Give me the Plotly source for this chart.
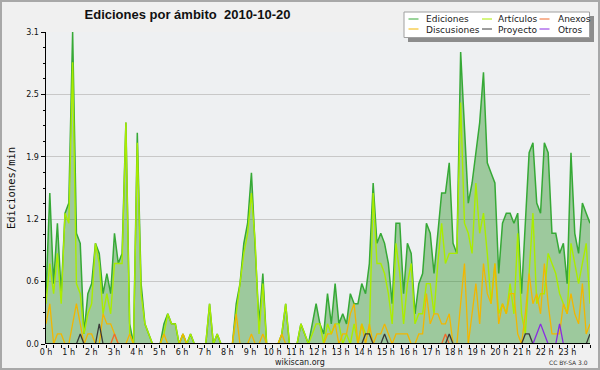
import plotly.graph_objects as go

# ---------------- data (edits per minute, 10-minute bins) ----------------
N_STEPS = 144
HOURS = list(range(24))
HOUR_LABELS = [f"{h} h" for h in HOURS]
Y_MAX = 3.1
Y_TICK_STEP = 0.62
Y_MINOR_STEP = 0.155

EDICIONES = [
    0.5, 1.5, 0.6, 1.2, 0.5, 1.3, 1.4, 3.1, 1.1, 1.0, 0.1, 0.5,
    0.6, 1.0, 0.9, 0.5, 0.7, 0.5, 1.1, 0.8, 0.9, 2.2, 0.2, 0.0,
    2.1, 0.6, 0.2, 0.1, 0.0, 0.0, 0.0, 0.2, 0.3, 0.2, 0.2, 0.0,
    0.1, 0.0, 0.1, 0.0, 0.0, 0.0, 0.0, 0.4, 0.0, 0.1, 0.0, 0.0,
    0.0, 0.0, 0.4, 0.6, 1.0, 1.2, 1.7, 1.0, 0.2, 0.7, 0.0, 0.0,
    0.0, 0.0, 0.1, 0.4, 0.0, 0.0, 0.0, 0.2, 0.1, 0.0, 0.2, 0.4,
    0.2, 0.1, 0.5, 0.2, 0.6, 0.2, 0.3, 0.2, 0.5, 0.4, 0.4, 0.6,
    0.5, 0.8, 1.6, 1.0, 1.1, 1.0, 0.8, 0.4, 1.2, 1.2, 0.5, 1.0,
    0.9, 0.3, 0.6, 0.7, 1.2, 1.1, 0.7, 1.1, 1.5, 1.5, 1.8, 1.0,
    0.9, 2.9, 2.2, 1.4, 1.6, 1.9, 2.2, 2.7, 1.8, 1.7, 1.6, 0.7,
    1.2, 1.3, 1.3, 1.2, 1.3, 0.5, 1.2, 1.9, 2.0, 1.4, 1.3, 2.0,
    1.9, 1.1, 1.1, 0.9, 1.0, 0.6, 1.9, 1.1, 0.9, 1.4, 1.3, 1.2,
]

ARTICULOS = [
    0.4, 0.8, 0.5, 0.9, 0.4, 1.3, 1.2, 2.8, 0.6, 0.5, 0.1, 0.3,
    0.4, 1.0, 0.8, 0.3, 0.5, 0.3, 0.8, 0.8, 0.8, 2.2, 0.1, 0.0,
    2.0, 0.5, 0.2, 0.1, 0.0, 0.0, 0.0, 0.1, 0.3, 0.2, 0.2, 0.0,
    0.1, 0.0, 0.1, 0.0, 0.0, 0.0, 0.0, 0.4, 0.0, 0.1, 0.0, 0.0,
    0.0, 0.0, 0.3, 0.6, 0.9, 1.1, 1.5, 1.0, 0.1, 0.6, 0.0, 0.0,
    0.0, 0.0, 0.1, 0.4, 0.0, 0.0, 0.0, 0.2, 0.1, 0.0, 0.1, 0.2,
    0.2, 0.0, 0.2, 0.1, 0.2, 0.2, 0.0, 0.1, 0.0, 0.2, 0.0, 0.2,
    0.1, 0.1, 1.5, 0.8, 0.8, 0.7, 0.5, 0.2, 1.0, 0.7, 0.2, 0.6,
    0.8, 0.2, 0.3, 0.3, 0.6, 0.6, 0.3, 0.8, 1.2, 0.8, 0.9, 0.9,
    0.9, 2.4, 1.2, 1.1, 0.9, 1.6, 1.1, 1.3, 0.9, 0.4, 0.8, 0.3,
    0.4, 0.3, 0.6, 0.3, 1.1, 0.3, 0.1, 0.7, 1.3, 0.4, 0.5, 0.5,
    0.9, 0.8, 0.7, 0.5, 0.4, 0.3, 1.0, 0.8, 0.6, 0.8, 1.0, 0.4,
]

DISCUSIONES = [
    0.2, 0.4, 0.0, 0.1, 0.1, 0.0, 0.0, 0.2, 0.4, 0.2, 0.0, 0.1,
    0.1, 0.0, 0.0, 0.3, 0.2, 0.2, 0.1, 0.0, 0.0, 0.0, 0.1, 0.0,
    0.0, 0.0, 0.0, 0.0, 0.0, 0.0, 0.0, 0.1, 0.0, 0.0, 0.0, 0.0,
    0.1, 0.0, 0.0, 0.0, 0.0, 0.0, 0.0, 0.0, 0.0, 0.0, 0.0, 0.0,
    0.0, 0.0, 0.3, 0.0, 0.0, 0.0, 0.1, 0.0, 0.0, 0.1, 0.0, 0.0,
    0.0, 0.0, 0.1, 0.0, 0.0, 0.0, 0.0, 0.0, 0.0, 0.0, 0.0, 0.0,
    0.0, 0.0, 0.1, 0.1, 0.2, 0.0, 0.1, 0.1, 0.3, 0.4, 0.0, 0.2,
    0.0, 0.2, 0.0, 0.1, 0.1, 0.2, 0.1, 0.0, 0.1, 0.1, 0.1, 0.1,
    0.0, 0.0, 0.1, 0.1, 0.5, 0.2, 0.3, 0.3, 0.2, 0.2, 0.3, 0.0,
    0.0, 0.4, 0.8, 0.0, 0.3, 0.6, 0.2, 0.8, 0.5, 0.4, 0.8, 0.2,
    0.4, 0.3, 0.5, 0.5, 0.1, 0.0, 0.3, 0.7, 0.4, 0.5, 0.3, 0.8,
    0.4, 0.1, 0.1, 0.1, 0.4, 0.3, 0.5, 0.3, 0.2, 0.6, 0.1, 0.2,
]

ANEXOS = [0.0] * 18 + [0.1] + [0.0] * 86 + [0.1] + [0.0] * 38

PROYECTO = (
    [0.0] * 9 + [0.1] + [0.0] * 4 + [0.2] + [0.0] * 69
    + [0.1, 0.1] + [0.0] * 3 + [0.1] + [0.0] * 16 + [0.1]
    + [0.0] * 19 + [0.1, 0.1] + [0.0] * 15 + [0.1]
)

OTROS = [0.0] * 129 + [0.1, 0.2, 0.1] + [0.0] * 3 + [0.2] + [0.0] * 8

SERIES = [
    ("Ediciones", EDICIONES, "#36a936", 1.5),
    ("Artículos", ARTICULOS, "#aaec00", 1.4),
    ("Discusiones", DISCUSIONES, "#f2b600", 1.3),
    ("Anexos", ANEXOS, "#f06a2c", 1.3),
    ("Proyecto", PROYECTO, "#3a3a3a", 1.3),
    ("Otros", OTROS, "#8a2be2", 1.3),
]

# legend layout: (name, column, row)
LEGEND_ORDER = [("Ediciones", 0, 0), ("Artículos", 1, 0), ("Anexos", 2, 0),
                ("Discusiones", 0, 1), ("Proyecto", 1, 1), ("Otros", 2, 1)]

# ---------------- geometry helpers ----------------
W, H = 600, 370
ML, MR, MT, MB = 46, 10, 32, 26
PW, PH = W - ML - MR, H - MT - MB


def px_x(p):
    return (p - ML) / PW


def px_y(p):
    return (H - MB - p) / PH


x_hours = [i * 24 / (N_STEPS - 1) for i in range(N_STEPS)]

fig = go.Figure()
for name, vals, color, lw in SERIES:
    kw = {}
    if name == "Ediciones":
        kw = dict(fill="tozeroy", fillcolor="rgba(36,143,30,0.40)")
    fig.add_trace(go.Scatter(x=x_hours, y=vals, mode="lines", name=name,
                             line=dict(color=color, width=lw), showlegend=False,
                             hoverinfo="skip", **kw))

shapes = []
annotations = []

# x axis baseline drawn above the traces
shapes.append(dict(type="line", xref="paper", yref="y", x0=0, x1=1, y0=0, y1=0,
                   line=dict(color="black", width=2), layer="above"))

# outer frame of the image
shapes.append(dict(type="rect", xref="paper", yref="paper",
                   x0=px_x(1), x1=px_x(599), y0=px_y(369), y1=px_y(1),
                   line=dict(color="#a8a8a8", width=2), layer="above"))

# legend box with shadow
shapes.append(dict(type="rect", xref="paper", yref="paper",
                   x0=px_x(408), x1=px_x(594), y0=px_y(42), y1=px_y(16),
                   fillcolor="#8c8c8c", line=dict(width=0), layer="above"))
shapes.append(dict(type="rect", xref="paper", yref="paper",
                   x0=px_x(404), x1=px_x(589.5), y0=px_y(37.5), y1=px_y(12),
                   fillcolor="white", line=dict(color="#a0a0a0", width=1), layer="above"))

COL_SYM = [408.5, 482, 539.5]
COL_TXT = [424, 496, 556]
ROW_Y = [19.5, 29.5]
color_of = {n: c for n, _, c, _ in SERIES}
for name, col, row in LEGEND_ORDER:
    y = ROW_Y[row]
    shapes.append(dict(type="line", xref="paper", yref="paper",
                       x0=px_x(COL_SYM[col]), x1=px_x(COL_SYM[col] + 10),
                       y0=px_y(y - 0.5), y1=px_y(y - 0.5),
                       line=dict(color=color_of[name], width=1), layer="above"))
    annotations.append(dict(text=name, xref="paper", yref="paper",
                            x=px_x(COL_TXT[col]), y=px_y(y), xanchor="left",
                            yanchor="middle", showarrow=False,
                            font=dict(family="DejaVu Sans", size=9, color="#1a1a1a")))

annotations.append(dict(text="wikiscan.org", xref="paper", yref="paper",
                        x=px_x(300), y=px_y(362.5), xanchor="center", yanchor="middle",
                        showarrow=False,
                        font=dict(family="DejaVu Sans", size=8, color="#222")))
annotations.append(dict(text="CC BY-SA 3.0", xref="paper", yref="paper",
                        x=px_x(590), y=px_y(362.5), xanchor="right", yanchor="middle",
                        showarrow=False,
                        font=dict(family="DejaVu Sans", size=6, color="#333")))

fig.update_layout(
    width=W, height=H,
    margin=dict(l=ML, r=MR, t=MT, b=MB, pad=0),
    paper_bgcolor="#f0f0f0",
    plot_bgcolor="#eef0f2",
    showlegend=False,
    title=dict(text="Ediciones por ámbito \u00a02010-10-20",
               x=187.5 / W, xanchor="center", xref="container",
               y=1 - 14 / H, yanchor="middle", yref="container",
               font=dict(family="Liberation Sans", size=13, color="#111",
                         weight="bold")),
    shapes=shapes,
    annotations=annotations,
)

fig.update_xaxes(
    range=[0, 24],
    tickmode="array", tickvals=HOURS, ticktext=HOUR_LABELS,
    ticks="outside", ticklen=3, tickwidth=1, tickcolor="black",
    ticklabelstandoff=-3,
    minor=dict(dtick=1 / 3, tick0=0, ticks="outside", ticklen=3,
               tickcolor="black", tickwidth=1, showgrid=False),
    showgrid=False, zeroline=False, showline=False,
    tickfont=dict(family="DejaVu Sans", size=8, color="#111"),
)

fig.update_yaxes(
    range=[0, Y_MAX],
    tickmode="linear", tick0=0, dtick=Y_TICK_STEP, tickformat=".1f",
    ticks="outside", ticklen=4, tickwidth=1, tickcolor="black",
    minor=dict(dtick=Y_MINOR_STEP, tick0=0, ticks="outside", ticklen=2,
               tickcolor="black", tickwidth=1, showgrid=False),
    showgrid=True, gridcolor="#c8c8c8", gridwidth=1,
    zeroline=False, showline=True, linecolor="black", linewidth=1.5,
    tickfont=dict(family="DejaVu Sans", size=8, color="#111"),
    title=dict(text="Ediciones/min", standoff=8,
               font=dict(family="DejaVu Sans Mono", size=10.5, color="#111")),
)

fig.write_html(
    "out.html",
    config={"displayModeBar": False, "staticPlot": True},
    post_script="document.body.style.margin='0';document.body.style.overflow='hidden';",
)
